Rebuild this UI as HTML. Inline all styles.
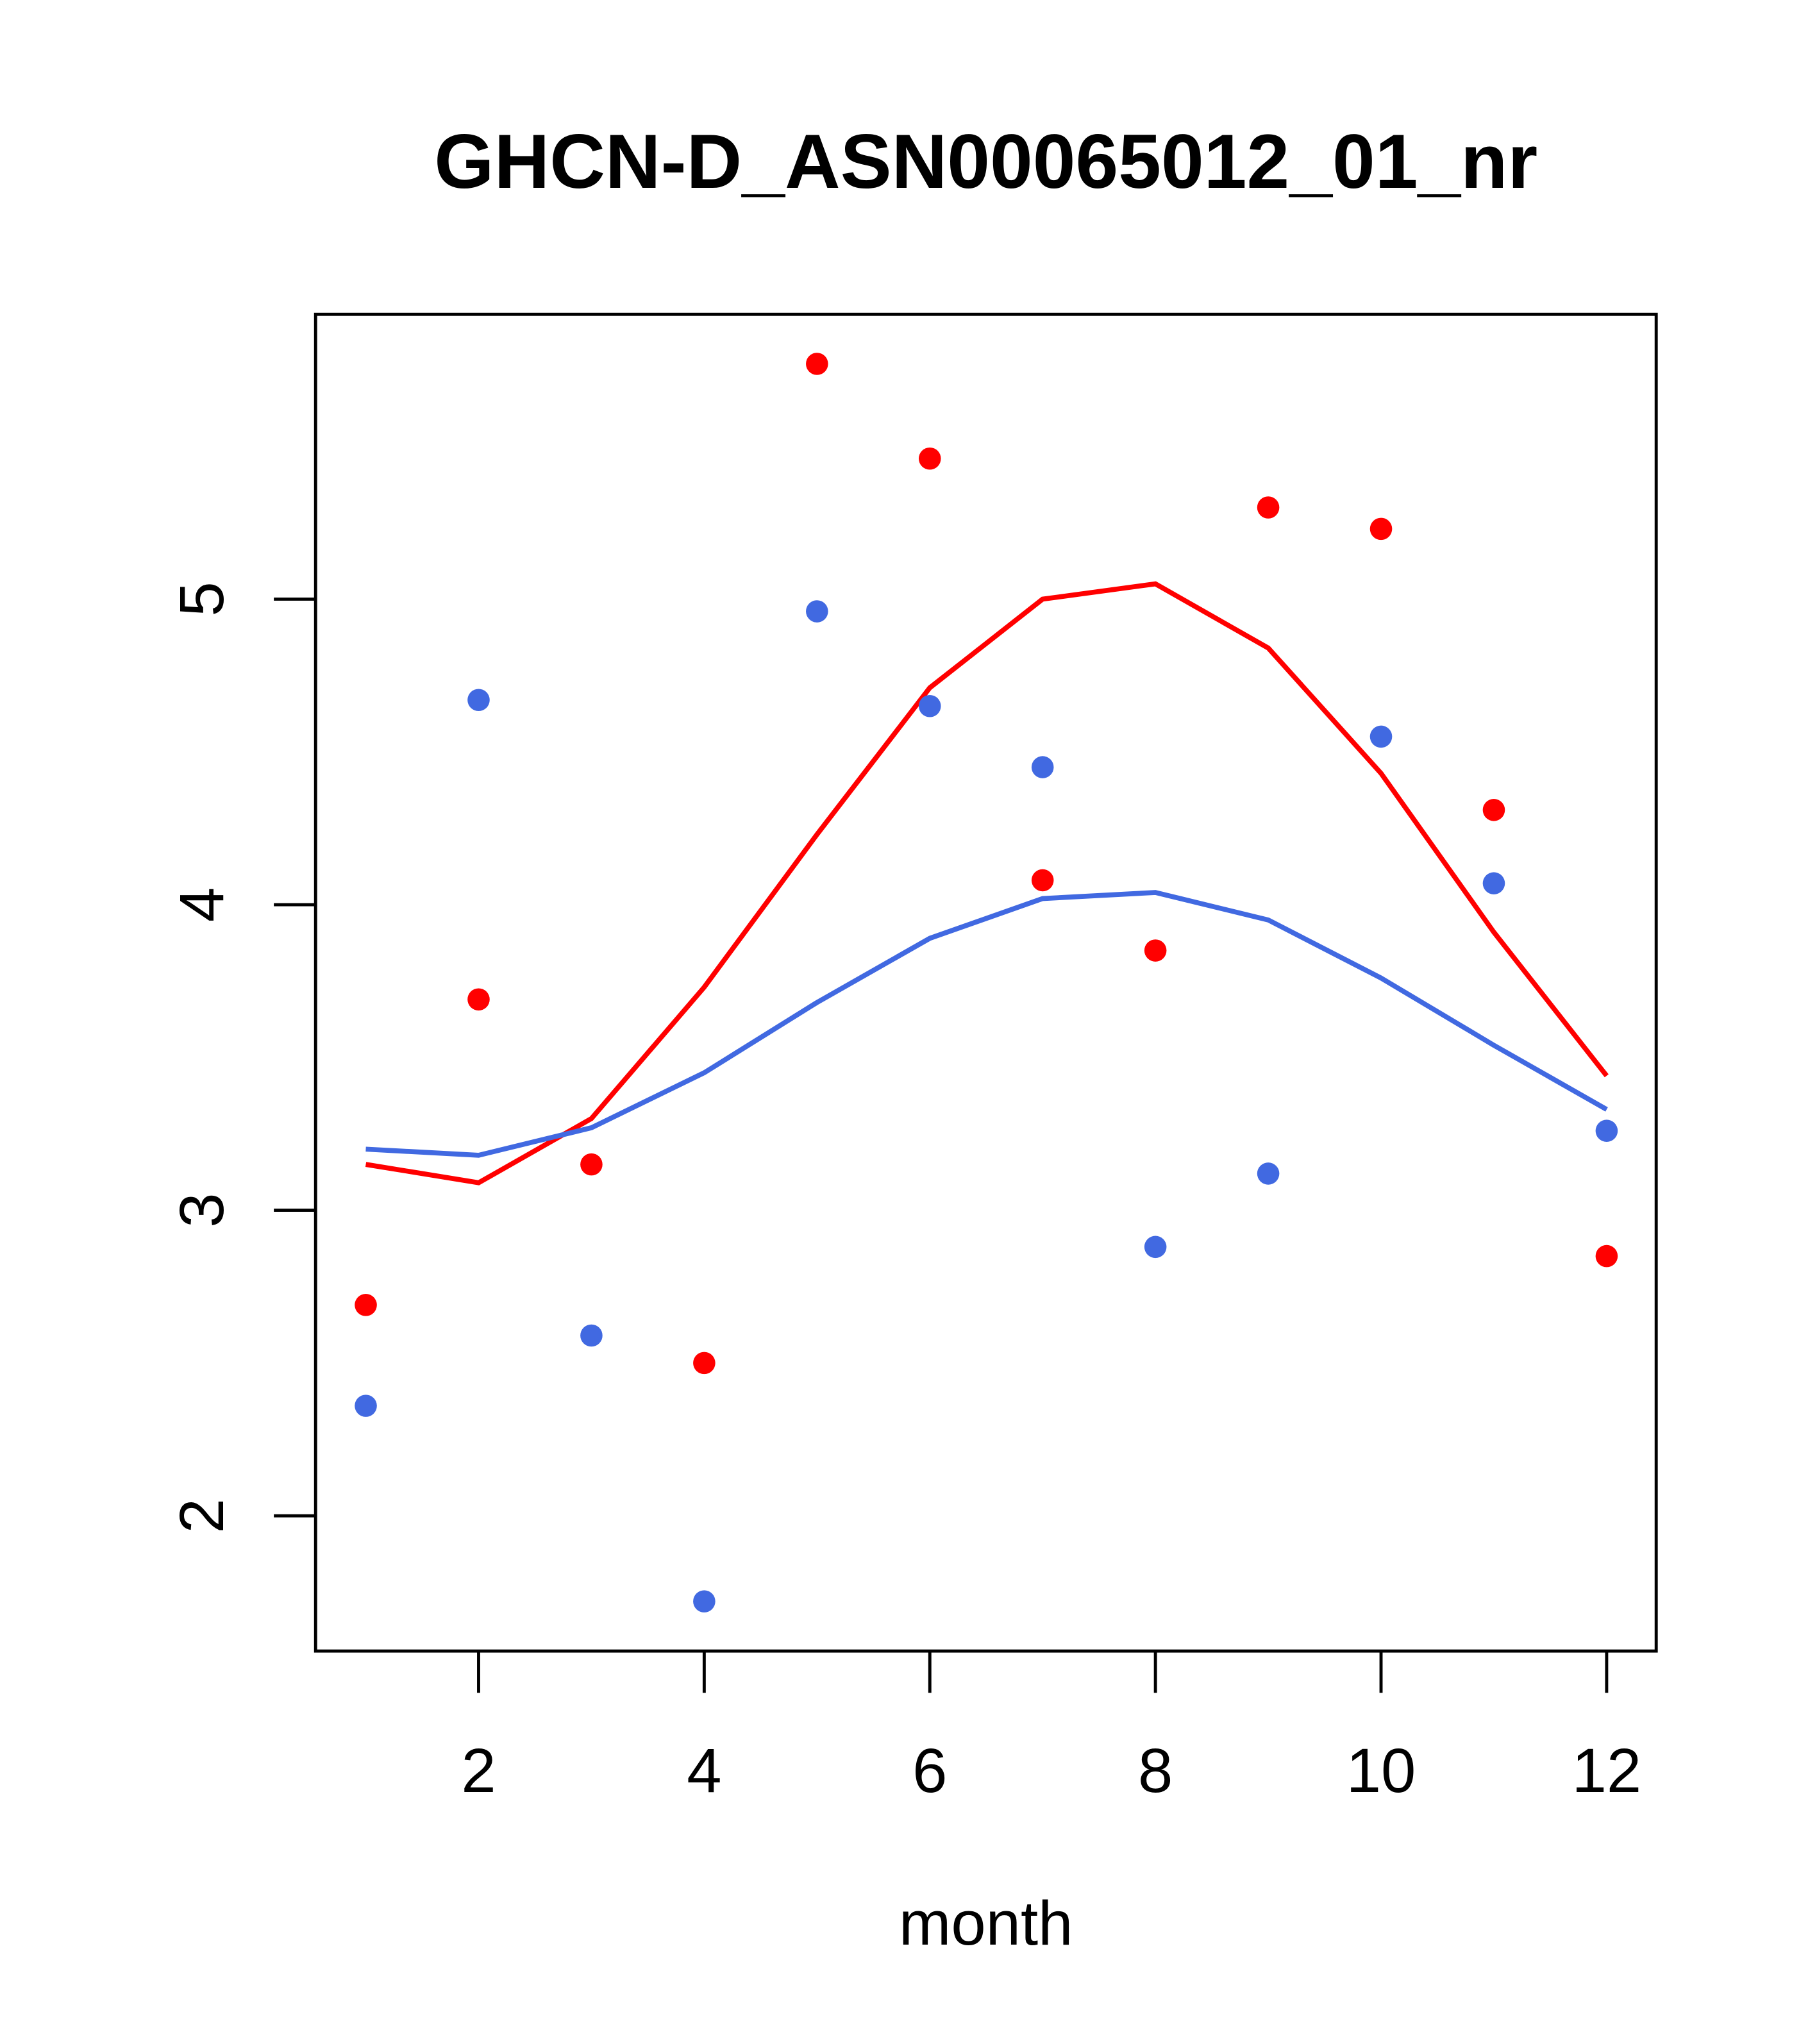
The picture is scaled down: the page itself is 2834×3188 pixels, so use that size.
<!DOCTYPE html>
<html><head><meta charset="utf-8"><style>
html,body{margin:0;padding:0;background:#fff;}
svg{display:block;font-family:"Liberation Sans",Arial,sans-serif;}
</style></head><body>
<svg id="chart" width="2834" height="3188" viewBox="0 0 1393.3 1567.3" xmlns="http://www.w3.org/2000/svg">
<rect width="1393.3" height="1567.3" fill="#fff"/>
<text x="756" y="144" text-anchor="middle" font-size="59" font-weight="bold">GHCN-D_ASN00065012_01_nr</text>
<rect x="242" y="241" width="1028" height="1025" fill="none" stroke="#000" stroke-width="2.4"/>
<text x="756" y="1491" text-anchor="middle" font-size="48">month</text>
<g id="axes"></g>
<g id="marks"></g>
</svg>
<script>
const months=[1,2,3,4,5,6,7,8,9,10,11,12];
const redPoints=[2.69,3.69,3.15,2.50,5.77,5.46,4.08,3.85,5.30,5.23,4.31,2.85];
const bluePoints=[2.36,4.67,2.59,1.72,4.96,4.65,4.45,2.88,3.12,4.55,4.07,3.26];
const redLine=[3.15,3.09,3.30,3.73,4.23,4.71,5.00,5.05,4.84,4.43,3.91,3.44];
const blueLine=[3.20,3.18,3.27,3.45,3.68,3.89,4.02,4.04,3.95,3.76,3.54,3.33];
const xTicks=[2,4,6,8,10,12];
const yTicks=[2,3,4,5];

const X=m=>367+(m-2)*86.5;
const Y=v=>928-(v-3)*234.3;
const NS="http://www.w3.org/2000/svg";
const axes=document.getElementById('axes'), marks=document.getElementById('marks');
function mk(tag,attrs,parent){const e=document.createElementNS(NS,tag);for(const k in attrs)e.setAttribute(k,attrs[k]);parent.appendChild(e);return e;}

xTicks.forEach(t=>{
  const l=mk('line',{x1:X(t),x2:X(t),y1:1266,y2:1298,stroke:'#000','stroke-width':2.4},axes);
  
  
  const tx=mk('text',{x:X(t),y:1374,'text-anchor':'middle','font-size':48},axes);
  tx.textContent=t;
  
  
});
yTicks.forEach(t=>{
  const l=mk('line',{x1:210,x2:242,y1:Y(t),y2:Y(t),stroke:'#000','stroke-width':2.4},axes);
  
  
  const tx=mk('text',{x:0,y:0,'text-anchor':'middle','font-size':48,transform:`translate(171,${Y(t)}) rotate(-90)`},axes);
  tx.textContent=t;
  
  
});

function line(vals,color,name){
  const p=mk('polyline',{points:months.map((m,i)=>X(m)+','+Y(vals[i])).join(' '),fill:'none',stroke:color,'stroke-width':3.8},marks);
  
  
}
function pts(vals,color,name){
  months.forEach((m,i)=>{
    const c=mk('circle',{cx:X(m),cy:Y(vals[i]),r:8.5,fill:color},marks);
    
    
  });
}
line(redLine,'#ff0000','red-trend-line');
line(blueLine,'#4169e1','blue-trend-line');
pts(redPoints,'#ff0000','red-point');
pts(bluePoints,'#4169e1','blue-point');
</script>
</body></html>
